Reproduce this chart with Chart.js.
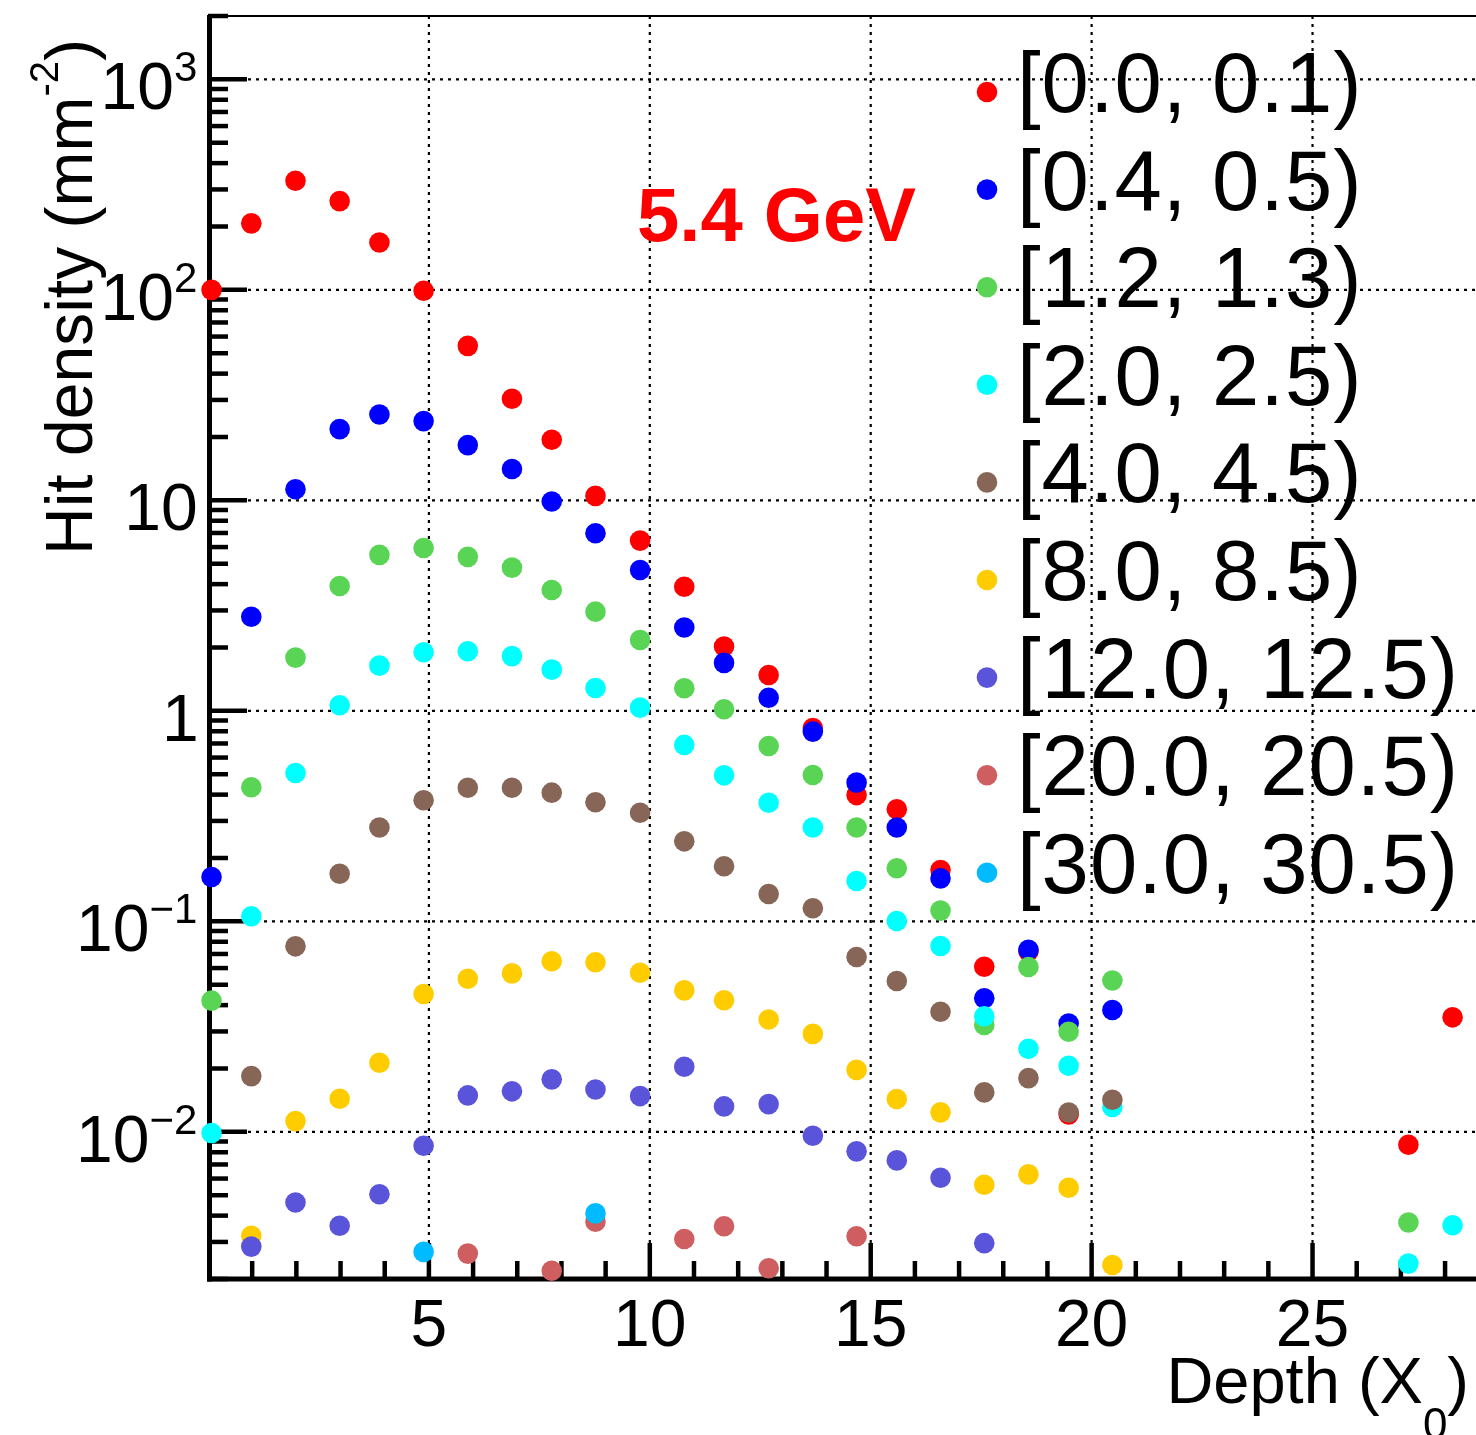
<!DOCTYPE html>
<html>
<head>
<meta charset="utf-8">
<title>Hit density vs depth</title>
<script src="https://cdn.jsdelivr.net/npm/chart.js@4.4.1/dist/chart.umd.min.js"></script>
<style>
  html, body { margin: 0; padding: 0; background: #fff; }
  canvas { display: block; }
</style>
</head>
<body>
<canvas id="hits" width="1476" height="1435"></canvas>
<script>
// Layer depths in X0 (layers 22-26 have no entries above the axis floor)
const depth = [0.08, 0.98, 1.98, 2.98, 3.88, 4.88, 5.88, 6.88, 7.78, 8.77, 9.78, 10.78,
               11.68, 12.69, 13.69, 14.68, 15.59, 16.58, 17.57, 18.57, 19.48, 20.47, 27.17, 28.17];

// Radial bins (same order as the legend)
const bins = ['[0.0, 0.1)', '[0.4, 0.5)', '[1.2, 1.3)', '[2.0, 2.5)', '[4.0, 4.5)',
              '[8.0, 8.5)', '[12.0, 12.5)', '[20.0, 20.5)', '[30.0, 30.5)'];
const binColors = ['#ff0000', '#0000ff', '#59d454', '#00ffff', '#876657',
                   '#ffcc00', '#5954d9', '#cf5e61', '#00bbff'];

// Hit density per layer, mm^-2 (null = nothing to show)
const r00 = [100, 207, 330, 264, 168, 99, 54.2, 30.4, 19.4, 10.5, 6.44, 3.89,
             2.02, 1.48, 0.829, 0.398, 0.341, 0.1754, 0.0609, 0.0719, 0.0121, null, 0.00869, 0.035];
const r04 = [0.1626, 2.8, 11.3, 21.8, 25.6, 23.8, 18.3, 14.1, 9.87, 6.98, 4.67, 2.49,
             1.69, 1.155, 0.797, 0.456, 0.279, 0.16, 0.0431, 0.0733, 0.0327, 0.0379, null, null];
const r12 = [0.042, 0.4335, 1.79, 3.92, 5.51, 5.94, 5.39, 4.79, 3.75, 2.96, 2.17, 1.28,
             1.018, 0.681, 0.496, 0.279, 0.1787, 0.1125, 0.0322, 0.0607, 0.0299, 0.0524, 0.00371, null];
const r20 = [0.00987, 0.1057, 0.507, 1.063, 1.64, 1.9, 1.92, 1.82, 1.57, 1.285, 1.036, 0.689,
             0.494, 0.366, 0.279, 0.1556, 0.1004, 0.0764, 0.0354, 0.0248, 0.0206, 0.01312, 0.002367, 0.0036];
const r40 = [null, 0.0184, 0.0761, 0.1684, 0.279, 0.376, 0.4316, 0.4316, 0.4087, 0.368, 0.3283, 0.24,
             0.1827, 0.1349, 0.1154, 0.0677, 0.0521, 0.0372, 0.0154, 0.018, 0.01236, 0.01422, null, null];
const r80 = [null, 0.00321, 0.01125, 0.01437, 0.0213, 0.0452, 0.0534, 0.0566, 0.0646, 0.0639, 0.057, 0.047,
             0.0422, 0.0342, 0.0292, 0.0197, 0.01432, 0.01238, 0.00561, 0.00628, 0.00543, 0.00233, null, null];
const r120 = [null, 0.00285, 0.00462, 0.00358, 0.00505, 0.00859, 0.0149, 0.01558, 0.01776, 0.0159, 0.01479, 0.0204,
              0.01321, 0.01355, 0.00959, 0.00808, 0.00732, 0.00605, 0.00296, null, null, null, null, null];
const r200 = [null, null, null, null, null, null, 0.00264, null, 0.00219, 0.00374, null, 0.0031,
              0.00356, 0.00225, null, 0.00319, null, null, null, null, null, null, null, null];
const r300 = [null, null, null, null, null, 0.00269, null, null, null, 0.0041, null, null,
              null, null, null, null, null, null, null, null, null, null, null, null];
const densities = [r00, r04, r12, r20, r40, r80, r120, r200, r300];

// Axis ticks and labels
const xTickValues = [5, 10, 15, 20, 25];
const xTickLabels = ['5', '10', '15', '20', '25'];
const yTickValues = [1000, 100, 10, 1, 0.1, 0.01];
const yTickBase = ['10', '10', '10', '1', '10', '10'];
const yTickExp = ['3', '2', '', '', '\u22121', '\u22122'];

const FONT = '"Liberation Sans", Arial, Helvetica, sans-serif';

function line(ctx, x1, y1, x2, y2) {
  ctx.beginPath();
  ctx.moveTo(x1, y1);
  ctx.lineTo(x2, y2);
  ctx.stroke();
}

// Frame, dotted grid, inward ticks and axis labels
const frame = {
  id: 'frame',
  beforeDatasetsDraw(chart) {
    const { ctx, chartArea: a, scales: { x, y } } = chart;
    ctx.save();
    ctx.strokeStyle = '#000';

    ctx.lineWidth = 2.2;
    ctx.setLineDash([3, 5]);
    xTickValues.forEach(v => {
      const px = x.getPixelForValue(v);
      line(ctx, px, a.top, px, a.bottom);
    });
    yTickValues.forEach(v => {
      const py = y.getPixelForValue(v);
      line(ctx, a.left, py, a.right, py);
    });
    ctx.setLineDash([]);

    ctx.lineWidth = 4.5;
    for (let k = 1; k <= Math.floor(x.max); k++) {
      const px = x.getPixelForValue(k);
      line(ctx, px, a.bottom, px, a.bottom - (k % 5 === 0 ? 36 : 18));
    }
    for (let e = -3; e <= 3; e++) {
      for (let m = 1; m <= 9; m++) {
        const v = m * Math.pow(10, e);
        if (v < y.min || v > y.max) continue;
        const py = y.getPixelForValue(v);
        line(ctx, a.left, py, a.left + (m === 1 ? 39 : 20), py);
      }
    }

    ctx.lineWidth = 5;
    line(ctx, a.left + 1.5, a.top - 1, a.left + 1.5, a.bottom + 2.5);
    line(ctx, a.left - 1, a.bottom, a.right, a.bottom);
    ctx.lineWidth = 2;
    line(ctx, a.left, a.top, a.right, a.top);

    ctx.fillStyle = '#000';
    ctx.textBaseline = 'alphabetic';

    // x tick labels
    ctx.font = `66px ${FONT}`;
    ctx.textAlign = 'center';
    xTickValues.forEach((v, i) => {
      ctx.fillText(xTickLabels[i], x.getPixelForValue(v), 1346);
    });

    // y tick labels: 10 with raised exponent, right edge of ink at one column
    ctx.textAlign = 'left';
    yTickValues.forEach((v, i) => {
      const py = y.getPixelForValue(v);
      ctx.font = `66px ${FONT}`;
      const bw = ctx.measureText(yTickBase[i]).width;
      let inkRight;
      if (yTickExp[i]) {
        ctx.font = `42px ${FONT}`;
        inkRight = bw + ctx.measureText(yTickExp[i]).actualBoundingBoxRight;
      } else {
        inkRight = ctx.measureText(yTickBase[i]).actualBoundingBoxRight;
      }
      const x0 = 196 - inkRight;
      ctx.font = `66px ${FONT}`;
      ctx.fillText(yTickBase[i], x0, py + 30);
      if (yTickExp[i]) {
        ctx.font = `42px ${FONT}`;
        ctx.fillText(yTickExp[i], x0 + bw, py + 2);
      }
    });

    // y title, rotated, with superscript
    ctx.save();
    ctx.translate(92, 297);
    ctx.rotate(-Math.PI / 2);
    ctx.font = `66px ${FONT}`;
    const t1 = 'Hit density (mm';
    const w1 = ctx.measureText(t1).width;
    const w3 = ctx.measureText(')').width;
    ctx.font = `40px ${FONT}`;
    const w2 = ctx.measureText('-2').width;
    const sx = -(w1 + w2 + w3) / 2;
    ctx.font = `66px ${FONT}`;
    ctx.fillText(t1, sx, 0);
    ctx.font = `40px ${FONT}`;
    ctx.fillText('-2', sx + w1, -34);
    ctx.font = `66px ${FONT}`;
    ctx.fillText(')', sx + w1 + w2, 0);
    ctx.restore();

    // x title, right aligned, with subscript
    ctx.font = `65px ${FONT}`;
    const u1 = 'Depth (X';
    const v1 = ctx.measureText(u1).width;
    const v3 = ctx.measureText(')').width;
    ctx.font = `44px ${FONT}`;
    const v2 = ctx.measureText('0').width;
    const tx = 1469 - (v1 + v2 + v3);
    ctx.font = `65px ${FONT}`;
    ctx.fillText(u1, tx, 1403);
    ctx.fillText(')', tx + v1 + v2, 1403);
    ctx.font = `44px ${FONT}`;
    ctx.fillText('0', tx + v1, 1439);

    ctx.restore();
  },
  afterDatasetsDraw(chart) {
    const { ctx } = chart;
    ctx.save();

    ctx.fillStyle = '#ff0000';
    ctx.font = `bold 76px ${FONT}`;
    ctx.textAlign = 'left';
    ctx.textBaseline = 'alphabetic';
    ctx.fillText('5.4 GeV', 637, 241);

    // legend
    ctx.letterSpacing = '1px';
    bins.forEach((label, i) => {
      const my = 92 + i * 97.6;
      ctx.fillStyle = binColors[i];
      ctx.beginPath();
      ctx.arc(987, my, 10.3, 0, Math.PI * 2);
      ctx.fill();
      ctx.fillStyle = '#000';
      ctx.font = `85px ${FONT}`;
      ctx.fillText(label, 1017, my + 20);
    });

    ctx.restore();
  }
};

const datasets = densities.map((vals, i) => ({
  label: bins[i],
  data: vals.map((v, j) => ({ x: depth[j], y: v })).filter(p => p.y !== null),
  backgroundColor: binColors[i],
  borderWidth: 0,
  pointRadius: 10.3,
  pointHoverRadius: 10.3,
  clip: false,
  order: bins.length - i
}));

new Chart(document.getElementById('hits').getContext('2d'), {
  type: 'scatter',
  data: { datasets },
  options: {
    responsive: false,
    animation: false,
    devicePixelRatio: 1,
    events: [],
    layout: { autoPadding: false, padding: { left: 208, top: 16, right: 0, bottom: 156 } },
    plugins: { legend: { display: false }, tooltip: { enabled: false } },
    scales: {
      x: {
        type: 'linear', min: 0, max: 28.7,
        grid: { display: false, drawTicks: false },
        border: { display: false },
        ticks: { display: false }
      },
      y: {
        type: 'logarithmic', min: 0.002, max: 2000,
        grid: { display: false, drawTicks: false },
        border: { display: false },
        ticks: { display: false }
      }
    }
  },
  plugins: [frame]
});
</script>
</body>
</html>
